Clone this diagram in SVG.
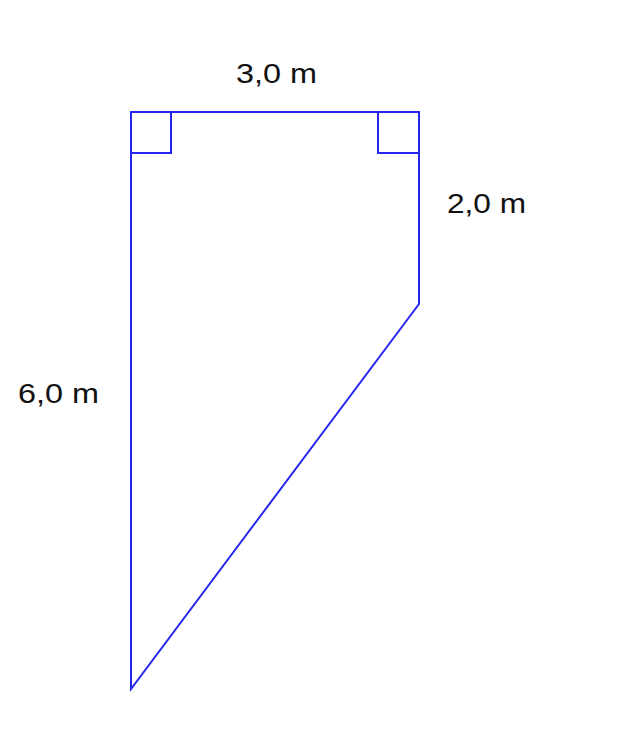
<svg xmlns="http://www.w3.org/2000/svg" width="630" height="750" viewBox="0 0 630 750">
<style>
.s{fill:none;stroke:#2626f0;stroke-width:2;stroke-linejoin:miter}
.t{font-family:"Liberation Sans",Arial,sans-serif;font-size:28px;fill:#111}
</style>
<rect width="630" height="750" fill="#fff"/>
<g id="shape">
<polygon class="s" points="131,112 419,112 419,304 131,689"/>
</g>
<g id="right-angles">
<polyline class="s" points="131,153 171,153 171,112"/>
<polyline class="s" points="378,112 378,153 419,153"/>
</g>
<g id="labels">
<text class="t" x="236" y="83" textLength="81" lengthAdjust="spacingAndGlyphs">3,0 m</text>
<text class="t" x="447" y="213" textLength="79" lengthAdjust="spacingAndGlyphs">2,0 m</text>
<text class="t" x="18" y="403" textLength="81" lengthAdjust="spacingAndGlyphs">6,0 m</text>
</g>
</svg>
